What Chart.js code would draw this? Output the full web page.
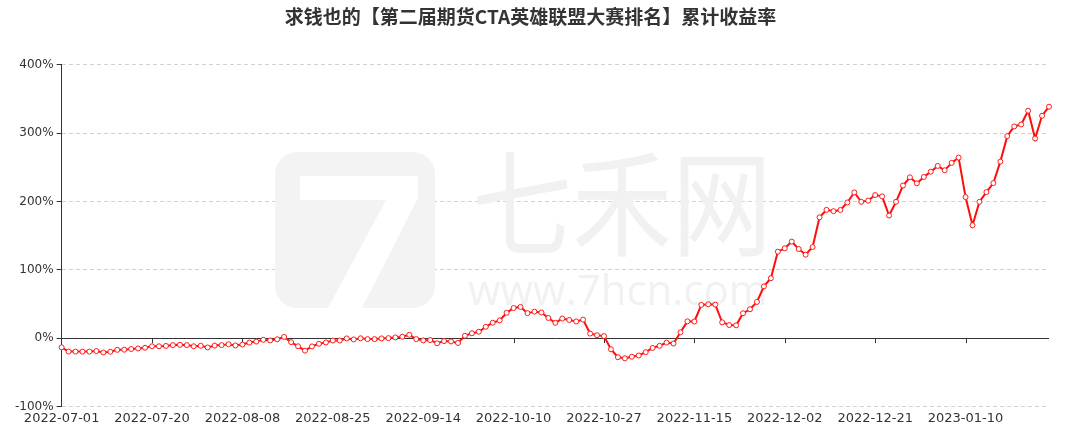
<!DOCTYPE html>
<html>
<head>
<meta charset="utf-8">
<script src="https://cdn.jsdelivr.net/npm/chart.js@4/dist/chart.umd.min.js"></script>
<style>
  html, body { margin: 0; padding: 0; background: #fff; }
  #wrap { width: 1065px; height: 432px; position: relative; }
</style>
</head>
<body>
<div id="wrap"><canvas id="chart"></canvas></div>
<script>
// 累计收益率 (%), 交易日
const dates = [
  '2022-07-01','2022-07-04','2022-07-05','2022-07-06','2022-07-07','2022-07-08','2022-07-11','2022-07-12','2022-07-13','2022-07-14',
  '2022-07-15','2022-07-18','2022-07-19','2022-07-20','2022-07-21','2022-07-22','2022-07-25','2022-07-26','2022-07-27','2022-07-28',
  '2022-07-29','2022-08-01','2022-08-02','2022-08-03','2022-08-04','2022-08-05','2022-08-08','2022-08-09','2022-08-10','2022-08-11',
  '2022-08-12','2022-08-15','2022-08-16','2022-08-17','2022-08-18','2022-08-19','2022-08-22','2022-08-23','2022-08-24','2022-08-25',
  '2022-08-26','2022-08-29','2022-08-30','2022-08-31','2022-09-01','2022-09-02','2022-09-05','2022-09-06','2022-09-07','2022-09-08',
  '2022-09-09','2022-09-13','2022-09-14','2022-09-15','2022-09-16','2022-09-19','2022-09-20','2022-09-21','2022-09-22','2022-09-23',
  '2022-09-26','2022-09-27','2022-09-28','2022-09-29','2022-09-30','2022-10-10','2022-10-11','2022-10-12','2022-10-13','2022-10-14',
  '2022-10-17','2022-10-18','2022-10-19','2022-10-20','2022-10-21','2022-10-24','2022-10-25','2022-10-26','2022-10-27','2022-10-28',
  '2022-10-31','2022-11-01','2022-11-02','2022-11-03','2022-11-04','2022-11-07','2022-11-08','2022-11-09','2022-11-10','2022-11-11',
  '2022-11-14','2022-11-15','2022-11-16','2022-11-17','2022-11-18','2022-11-21','2022-11-22','2022-11-23','2022-11-24','2022-11-25',
  '2022-11-28','2022-11-29','2022-11-30','2022-12-01','2022-12-02','2022-12-05','2022-12-06','2022-12-07','2022-12-08','2022-12-09',
  '2022-12-12','2022-12-13','2022-12-14','2022-12-15','2022-12-16','2022-12-19','2022-12-20','2022-12-21','2022-12-22','2022-12-23',
  '2022-12-26','2022-12-27','2022-12-28','2022-12-29','2022-12-30','2023-01-03','2023-01-04','2023-01-05','2023-01-06','2023-01-09',
  '2023-01-10','2023-01-11','2023-01-12','2023-01-13','2023-01-16','2023-01-17','2023-01-18','2023-01-19','2023-01-20','2023-01-30',
  '2023-01-31','2023-02-01','2023-02-02'
];

const returns = [
  -13.5, -19.8, -19.8, -19.8, -19.8, -18.9, -21.1, -20.0, -17.2, -17.0,
  -16.0, -15.2, -14.2, -12.0, -12.0, -11.5, -10.3, -9.8, -10.3, -12.0,
  -11.3, -13.7, -11.0, -10.3, -9.0, -10.8, -9.5, -6.6, -5.1, -2.5,
  -3.4, -1.8, 1.7, -5.9, -12.0, -18.4, -12.2, -8.3, -6.4, -3.6,
  -3.6, -0.5, -2.0, -0.3, -1.5, -1.5, -0.5, 0.0, 1.0, 2.0,
  4.8, -1.5, -3.4, -2.9, -7.6, -4.4, -4.9, -7.2, 3.4, 7.1,
  9.3, 16.5, 22.5, 25.9, 37.0, 44.0, 45.6, 36.5, 38.7, 37.5,
  29.4, 22.3, 28.6, 26.5, 24.3, 27.0, 6.6, 4.2, 2.9, -16.4,
  -28.0, -29.6, -27.3, -25.5, -20.6, -14.4, -11.3, -6.6, -8.0, 8.5,
  24.5, 24.3, 48.5, 49.5, 49.0, 23.1, 19.1, 18.6, 36.3, 42.2,
  52.9, 75.7, 87.6, 126.5, 131.4, 141.2, 130.4, 122.1, 133.3, 176.7,
  187.7, 185.8, 187.5, 198.5, 213.2, 199.5, 201.2, 209.3, 207.4, 179.4,
  199.5, 223.3, 235.3, 226.5, 235.8, 243.6, 252.0, 245.6, 256.4, 264.2,
  206.4, 165.2, 199.5, 213.7, 226.9, 258.3, 295.6, 309.8, 312.7, 332.8,
  292.2, 325.4, 338.7
];

const yTicks = [-100, 0, 100, 200, 300, 400];
const labelEvery = 13;

// 水印 + 零轴线 + x 轴刻度
const decorPlugin = {
  id: 'decor',
  beforeDatasetsDraw(chart) {
    const { ctx, chartArea, scales } = chart;
    ctx.save();
    // logo 底块
    ctx.fillStyle = '#f3f3f3';
    ctx.beginPath();
    ctx.roundRect(275, 152, 160, 156, 22);
    ctx.fill();
    ctx.fillStyle = '#ffffff';
    ctx.beginPath();
    ctx.moveTo(300, 176);
    ctx.lineTo(418, 176);
    ctx.lineTo(418, 198);
    ctx.lineTo(362, 308);
    ctx.lineTo(328, 308);
    ctx.lineTo(386, 200);
    ctx.lineTo(300, 200);
    ctx.closePath();
    ctx.fill();

    ctx.fillStyle = '#f1f1f1';
    ctx.textAlign = 'left';
    ctx.save();
    ctx.translate(472, 146);
    ctx.scale(1, 1.15);
    ctx.textBaseline = 'top';
    ctx.font = '100px "Noto Sans CJK SC"';
    ctx.fillText('七禾网', 0, 0);
    ctx.restore();
    ctx.textBaseline = 'alphabetic';
    ctx.font = '42px "Open Sans"';
    ctx.fillText('www.7hcn.com', 468, 305);
    ctx.restore();

    const y0 = scales.y.getPixelForValue(0);
    ctx.save();
    ctx.strokeStyle = '#333';
    ctx.lineWidth = 1;
    ctx.beginPath();
    ctx.moveTo(chartArea.left, Math.round(y0) + 0.5);
    ctx.lineTo(chartArea.right, Math.round(y0) + 0.5);
    dates.forEach((d, i) => {
      if (i % labelEvery !== 0 || i === 0) return;
      const x = Math.round(scales.x.getPixelForValue(i)) + 0.5;
      ctx.moveTo(x, y0);
      ctx.lineTo(x, y0 + 5);
    });
    ctx.stroke();
    ctx.restore();
  }
};

new Chart(document.getElementById('chart'), {
  type: 'line',
  data: {
    labels: dates,
    datasets: [{
      data: returns,
      borderColor: '#ff0d0d',
      borderWidth: 2,
      backgroundColor: '#ffffff',
      pointBackgroundColor: '#ffffff',
      pointBorderColor: '#ff1a1a',
      pointBorderWidth: 1,
      pointRadius: 2.5,
      tension: 0
    }]
  },
  options: {
    responsive: true,
    maintainAspectRatio: false,
    animation: false,
    layout: { padding: { left: 12, right: 16, top: 0, bottom: 2 } },
    plugins: {
      legend: { display: false },
      tooltip: { enabled: false },
      title: {
        display: true,
        text: '求钱也的【第二届期货CTA英雄联盟大赛排名】累计收益率',
        color: '#333',
        font: { family: '"Noto Sans CJK SC"', size: 19, weight: 'bold' },
        padding: { top: 5, bottom: 37 }
      }
    },
    scales: {
      x: {
        type: 'category',
        grid: { display: false, drawTicks: false },
        border: { display: false },
        ticks: {
          autoSkip: false,
          maxRotation: 0,
          padding: 4,
          color: '#333',
          font: { family: '"DejaVu Sans"', size: 13 },
          callback: (v, i) => (i % labelEvery === 0 ? dates[i] : null)
        }
      },
      y: {
        min: -100,
        max: 400,
        afterBuildTicks: scale => { scale.ticks = yTicks.map(v => ({ value: v })); },
        grid: {
          color: ctx => (ctx.tick && ctx.tick.value === 0 ? 'rgba(0,0,0,0)' : '#d0d0d0'),
          tickColor: '#333',
          tickLength: 5
        },
        border: { display: true, color: '#333', dash: [4, 3] },
        ticks: {
          padding: 3,
          color: '#333',
          font: { family: '"DejaVu Sans"', size: 12 },
          callback: v => v + '%'
        }
      }
    }
  },
  plugins: [decorPlugin]
});
</script>
</body>
</html>
